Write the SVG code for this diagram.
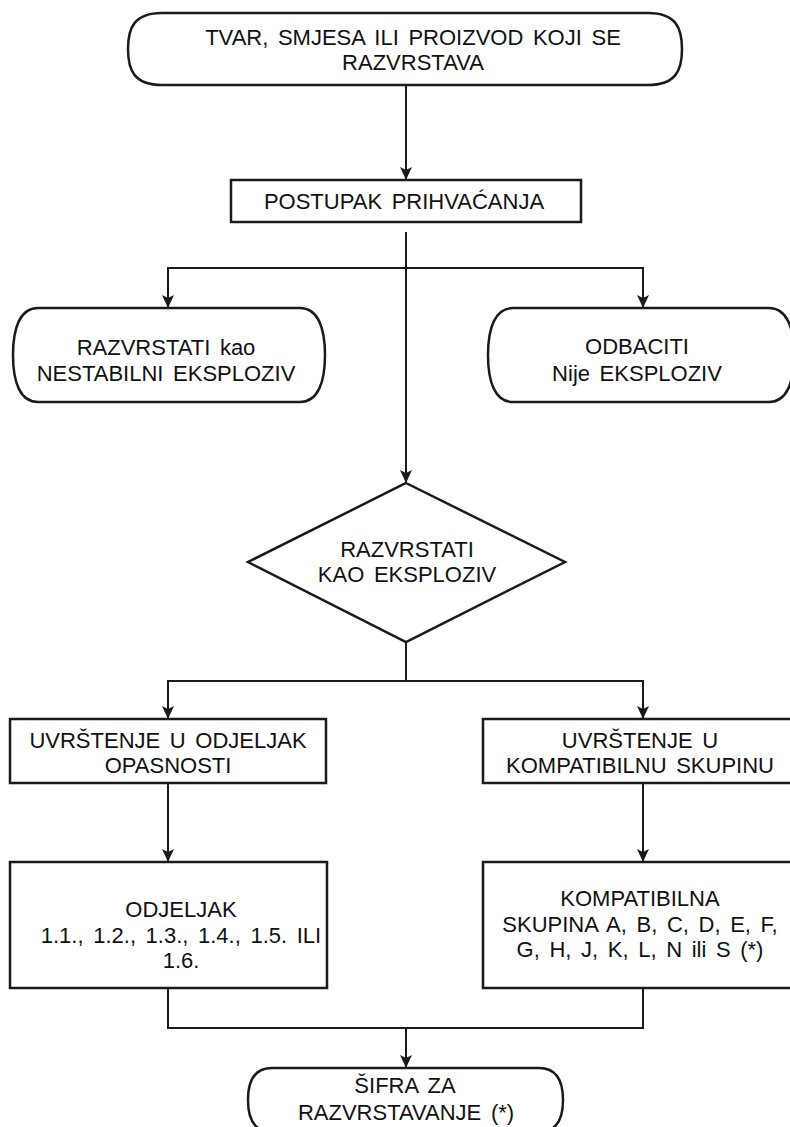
<svg xmlns="http://www.w3.org/2000/svg" width="790" height="1127" viewBox="0 0 790 1127">
<style>
.shape{fill:#fff;stroke:#1a1a1a;stroke-width:2.5}
.conn{fill:none;stroke:#1a1a1a;stroke-width:2}
text{font-family:"Liberation Sans",Arial,sans-serif;font-size:22px;fill:#111;text-anchor:middle;word-spacing:3.5px}
</style>
<defs>
<marker id="arr" markerUnits="userSpaceOnUse" markerWidth="14" markerHeight="12" refX="13" refY="6" orient="auto">
<path d="M0,0 L13,6 L0,12 L3,6 Z" fill="#1a1a1a"/>
</marker>
</defs>
<rect width="790" height="1127" fill="#fff"/>
<g id="connectors">
<path class="conn" d="M406,85 V180" marker-end="url(#arr)"/>
<path class="conn" d="M406,232 V483" marker-end="url(#arr)"/>
<path class="conn" d="M406,268 H168 V308" marker-end="url(#arr)"/>
<path class="conn" d="M406,268 H643 V308" marker-end="url(#arr)"/>
<path class="conn" d="M406,642 V681 H168 V719" marker-end="url(#arr)"/>
<path class="conn" d="M406,681 H643 V719" marker-end="url(#arr)"/>
<path class="conn" d="M168,783 V862" marker-end="url(#arr)"/>
<path class="conn" d="M643,783 V862" marker-end="url(#arr)"/>
<path class="conn" d="M168,988 V1028 H643 V988"/>
<path class="conn" d="M406,1028 V1068" marker-end="url(#arr)"/>
</g>
<g id="start">
<path class="shape" d="M162,13 H648 C676,13 682,28 682,49 C682,70 676,85 648,85 H162 C134,85 128,70 128,49 C128,28 134,13 162,13 Z"/>
<text x="413" y="45">TVAR, SMJESA ILI PROIZVOD KOJI SE</text>
<text x="413" y="70">RAZVRSTAVA</text>
</g>
<g id="postupak">
<rect class="shape" x="231" y="180" width="350" height="42"/>
<text x="404" y="209">POSTUPAK PRIHVAĆANJA</text>
</g>
<g id="nestabilni">
<path class="shape" d="M38,308 H300 C318,308 325,328 325,355 C325,382 318,402 300,402 H38 C20,402 13,382 13,355 C13,328 20,308 38,308 Z"/>
<text x="166" y="355">RAZVRSTATI kao</text>
<text x="166" y="381">NESTABILNI EKSPLOZIV</text>
</g>
<g id="odbaciti">
<path class="shape" d="M513,308 H769 C787,308 794,328 794,355 C794,382 787,402 769,402 H513 C495,402 488,382 488,355 C488,328 495,308 513,308 Z"/>
<text x="637" y="354">ODBACITI</text>
<text x="637" y="381">Nije EKSPLOZIV</text>
</g>
<g id="odluka">
<polygon class="shape" points="406,483 565,562 406,642 248,562"/>
<text x="407" y="557">RAZVRSTATI</text>
<text x="407" y="582">KAO EKSPLOZIV</text>
</g>
<g id="uvrstenje-odjeljak">
<rect class="shape" x="10" y="719" width="316" height="64"/>
<text x="168" y="748">UVRŠTENJE U ODJELJAK</text>
<text x="168" y="773">OPASNOSTI</text>
</g>
<g id="uvrstenje-skupina">
<rect class="shape" x="483" y="719" width="320" height="64"/>
<text x="640" y="748">UVRŠTENJE U</text>
<text x="640" y="773">KOMPATIBILNU SKUPINU</text>
</g>
<g id="odjeljak">
<rect class="shape" x="10" y="862" width="317" height="126"/>
<text x="181" y="917">ODJELJAK</text>
<text x="181" y="943">1.1., 1.2., 1.3., 1.4., 1.5. ILI</text>
<text x="181" y="968">1.6.</text>
</g>
<g id="skupina">
<rect class="shape" x="483" y="862" width="320" height="126"/>
<text x="640" y="906">KOMPATIBILNA</text>
<text x="640" y="932">SKUPINA A, B, C, D, E, F,</text>
<text x="640" y="957">G, H, J, K, L, N ili S (*)</text>
</g>
<g id="sifra">
<path class="shape" d="M272,1068 H539 C557,1068 563,1082 563,1100 C563,1118 557,1132 539,1132 H272 C254,1132 248,1118 248,1100 C248,1082 254,1068 272,1068 Z"/>
<text x="405" y="1093">ŠIFRA ZA</text>
<text x="406" y="1120">RAZVRSTAVANJE (*)</text>
</g>
</svg>
